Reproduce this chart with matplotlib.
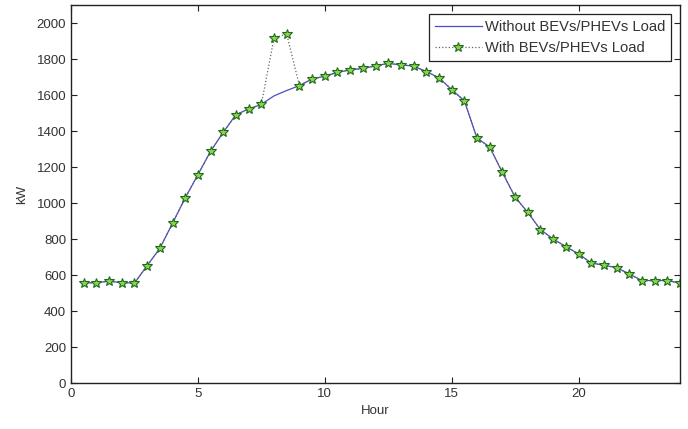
import matplotlib
matplotlib.use("Agg")
import matplotlib.pyplot as plt

plt.rcParams['font.family'] = ['Liberation Sans', 'DejaVu Sans']

hours = [0.5, 1, 1.5, 2, 2.5, 3, 3.5, 4, 4.5, 5, 5.5, 6, 6.5, 7, 7.5, 8, 8.5, 9,
         9.5, 10, 10.5, 11, 11.5, 12, 12.5, 13, 13.5, 14, 14.5, 15, 15.5, 16,
         16.5, 17, 17.5, 18, 18.5, 19, 19.5, 20, 20.5, 21, 21.5, 22, 22.5, 23,
         23.5, 24]
without_load = [555, 558, 565, 558, 555, 652, 748, 887, 1028, 1157, 1287, 1393,
                1491, 1522, 1548, 1595, 1625, 1652, 1689, 1704, 1726, 1739, 1748,
                1761, 1776, 1767, 1761, 1730, 1696, 1630, 1568, 1361, 1311, 1170,
                1033, 948, 852, 800, 758, 717, 667, 654, 641, 606, 569, 569, 569,
                555]
with_load = list(without_load)
with_load[15] = 1915
with_load[16] = 1939

x_ticks = [0, 5, 10, 15, 20]
y_ticks = [0, 200, 400, 600, 800, 1000, 1200, 1400, 1600, 1800, 2000]

fig = plt.figure(figsize=(6.88, 4.29), dpi=100)
ax = fig.add_axes([71/688, 1 - 383/429, (680-71)/688, (383-5)/429])

ax.plot(hours, without_load, color='#4b4bc8', lw=0.9, label='Without BEVs/PHEVs Load')
ax.plot(hours, with_load, color='#666666', lw=0.9, ls=':', marker='*',
        markersize=7, markerfacecolor='#8cd44a', markeredgecolor='#1f6b1f',
        markeredgewidth=0.8, label='With BEVs/PHEVs Load')

ax.set_xlim(0, 24)
ax.set_ylim(0, 2100)
ax.set_xticks(x_ticks)
ax.set_yticks(y_ticks)
ax.tick_params(direction='in', top=True, right=True, labelsize=9.5, length=4,
               width=0.8, colors='#222222', labelcolor='#333333')
for s in ax.spines.values():
    s.set_linewidth(1.0)
    s.set_color('#222222')
ax.set_xlabel('Hour', fontsize=9.5, color='#333333', labelpad=4)
ax.set_ylabel('kW', fontsize=9.5, color='#333333', labelpad=6)

leg = ax.legend(loc='upper right', fontsize=10.6, frameon=True, fancybox=False,
                edgecolor='#222222', framealpha=1, borderpad=0.4,
                handlelength=3.2, handletextpad=0.2, labelspacing=0.5,
                borderaxespad=0.6)
leg.get_frame().set_linewidth(0.9)
for t in leg.get_texts():
    t.set_color('#333333')

fig.savefig('out.png', dpi=100)
